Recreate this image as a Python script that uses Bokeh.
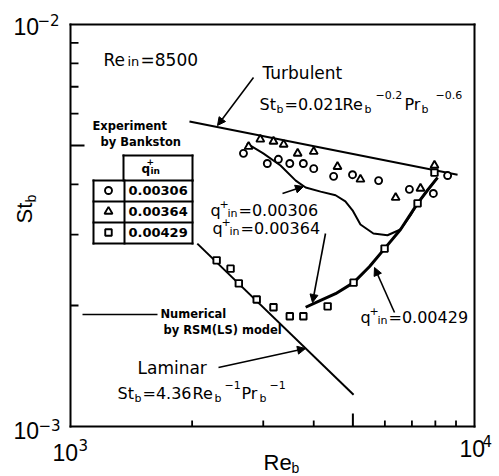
from bokeh.plotting import figure
from bokeh.models import Range1d, LinearScale, Label, Arrow, NormalHead
from bokeh.embed import file_html
from bokeh.resources import INLINE
import math

# Experiment by Bankston, q+in = 0.00306 (circles)
circ_re = [2680, 3070, 3270, 3490, 3770, 4000, 4480, 4990, 5790, 6900, 7910, 8580]
circ_st = [4.78e-3, 4.51e-3, 4.62e-3, 4.51e-3, 4.51e-3, 4.38e-3, 4.19e-3, 4.23e-3,
           4.09e-3, 3.89e-3, 3.80e-3, 4.21e-3]

# Experiment by Bankston, q+in = 0.00364 (triangles)
tri_re = [2760, 2950, 3180, 3370, 3650, 4000, 4580, 5220, 6380, 7350, 7960]
tri_st = [4.97e-3, 5.18e-3, 5.12e-3, 5.03e-3, 4.78e-3, 4.83e-3, 4.43e-3, 4.12e-3,
          3.71e-3, 3.91e-3, 4.46e-3]

# Experiment by Bankston, q+in = 0.00429 (squares)
sq_re = [2300, 2490, 2610, 2890, 3180, 3490, 3770, 4330, 5020, 5990, 7230, 7960]
sq_st = [2.59e-3, 2.47e-3, 2.27e-3, 2.07e-3, 1.98e-3, 1.88e-3, 1.88e-3, 1.99e-3,
         2.28e-3, 2.77e-3, 3.59e-3, 4.28e-3]

# Numerical, RSM(LS) model, q+in = 0.00306
num306_re = [2730, 3000, 3310, 3610, 3820, 4160, 4530, 4790, 4990, 5220, 5620, 6090,
             6560, 6940, 7230, 7650, 8100]
num306_st = [5.06e-3, 4.78e-3, 4.46e-3, 4.09e-3, 3.93e-3, 3.84e-3, 3.76e-3, 3.63e-3,
             3.45e-3, 3.18e-3, 3.02e-3, 2.99e-3, 3.09e-3, 3.35e-3, 3.59e-3, 3.87e-3, 4.16e-3]

# Numerical, q+in = 0.00364 and 0.00429 (coincident curves)
num_low_re = [3820, 4160, 4530, 5020, 5500, 5990, 6560, 7230, 7650, 8100]
num_low_st = [1.98e-3, 2.06e-3, 2.14e-3, 2.28e-3, 2.50e-3, 2.77e-3, 3.09e-3, 3.59e-3,
              3.87e-3, 4.16e-3]

# Correlation lines (end points)
turb_re = [1970, 9080]
turb_st = [5.74e-3, 4.23e-3]
lam_re = [2060, 5020]
lam_st = [2.85e-3, 1.20e-3]

# axes: decades and minor ticks
x_decades = (1e3, 1e4)
y_decades = (1e-3, 1e-2)
x_minor = [2000, 3000, 4000, 6000, 7000, 8000, 9000]
x_major = [5000]
y_minor = [2e-3, 3e-3, 4e-3, 6e-3, 7e-3, 8e-3, 9e-3]
y_major = [5e-3]

legend_vals = ["0.00306", "0.00364", "0.00429"]
legend_markers = ["circle", "triangle", "square"]

W, H = 499, 476
L, T, R, B = 70, 24, 474, 426  # box of the log-log panel on the page

# the log ranges are widened so that the decades land on the panel box
xdec = (R - L) / math.log10(x_decades[1] / x_decades[0])
ydec = (B - T) / math.log10(y_decades[1] / y_decades[0])
x_rng = Range1d(x_decades[0] / 10 ** (L / xdec), x_decades[1] * 10 ** ((W - R) / xdec))
y_rng = Range1d(y_decades[0] / 10 ** ((H - B) / ydec), y_decades[1] * 10 ** (T / ydec))

p = figure(width=W, height=H, x_axis_type="log", y_axis_type="log", title=None,
           x_range=x_rng, y_range=y_rng, x_axis_location=None, y_axis_location=None,
           output_backend="svg", toolbar_location=None,
           min_border=0, min_border_left=0, min_border_right=0,
           min_border_top=0, min_border_bottom=0)
p.background_fill_color = "white"
p.border_fill_color = "white"
p.grid.visible = False
p.outline_line_color = None

# page-pixel ranges for annotations
p.extra_x_ranges = {"px": Range1d(0, W)}
p.extra_y_ranges = {"px": Range1d(H, 0)}
p.extra_x_scales = {"px": LinearScale()}
p.extra_y_scales = {"px": LinearScale()}
PX = dict(x_range_name="px", y_range_name="px")

# panel box and inward ticks
p.segment(x0=[L, R, L, L], x1=[R, R, R, L], y0=[T, T, B, T], y1=[T, B, B, B],
          line_color="black", line_width=2, line_cap="square", **PX)
p.segment(x0=x_minor, x1=x_minor, y0=[B] * len(x_minor), y1=[B - 6] * len(x_minor),
          line_color="black", line_width=1.8, y_range_name="px")
p.segment(x0=x_major, x1=x_major, y0=[B], y1=[B - 13],
          line_color="black", line_width=2, y_range_name="px")
p.segment(x0=[L] * len(y_minor), x1=[L + 8] * len(y_minor), y0=y_minor, y1=y_minor,
          line_color="black", line_width=1.8, x_range_name="px")
p.segment(x0=[L], x1=[L + 14], y0=y_major, y1=y_major,
          line_color="black", line_width=2, x_range_name="px")

# correlations
p.line(turb_re, turb_st, line_color="black", line_width=2)
p.line(lam_re, lam_st, line_color="black", line_width=2)

# numerical curves
p.line(num306_re, num306_st, line_color="black", line_width=2)
p.line(num_low_re, num_low_st, line_color="black", line_width=3)

# experiments
mk = dict(fill_color="white", line_color="black", line_width=1.9)
p.scatter(circ_re, circ_st, marker="circle", size=7, **mk)
p.scatter(tri_re, tri_st, marker="triangle", size=8, **mk)
p.scatter(sq_re, sq_st, marker="square", size=6.5, **mk)

BASE_K = 0.45  # baseline offset of the label box, in em


def txt(x, y, s, size=16, font="DejaVu Sans", style="normal", angle=0.0):
    if angle:
        x = x - BASE_K * size
    else:
        y = y - BASE_K * size
    p.add_layout(Label(x=x, y=y, text=s, text_font=font, text_font_size=f"{size}px",
                       text_font_style=style, text_color="black", text_baseline="alphabetic",
                       text_align="left", angle=angle, **PX))


def arrow(x0, y0, x1, y1):
    p.add_layout(Arrow(x_start=x0, y_start=y0, x_end=x1, y_end=y1, line_width=1.6,
                       end=NormalHead(size=8, fill_color="black", line_color="black"), **PX))


# legend table
p.segment(x0=[123, 192, 123, 93, 93, 93, 124, 192, 93, 93],
          x1=[192, 192, 123, 192, 192, 192, 124, 192, 93, 192],
          y0=[155, 155, 155, 180, 201, 222, 180, 180, 180, 243],
          y1=[155, 180, 180, 180, 201, 222, 243, 243, 243, 243],
          line_color="black", line_width=2, line_cap="square", **PX)
row_y = [190, 211, 232]
for m, v, yy, sz in zip(legend_markers, legend_vals, row_y, [7, 8, 6.5]):
    p.scatter([108], [yy], marker=m, size=sz, **mk, **PX)
    txt(128, yy + 6, v, size=13, style="bold")
txt(141, 174, "q", size=12, style="bold")
txt(146, 165, "+", size=9, style="bold")
txt(150, 175, "in", size=9, style="bold")
txt(92, 131, "Experiment", size=11.5, style="bold")
txt(100, 147, "by Bankston", size=11.5, style="bold")

# numerical legend
p.line([82, 157], [314, 314], line_color="black", line_width=1.5, **PX)
txt(160, 319, "Numerical", size=11.5, style="bold")
txt(163, 335, "by RSM(LS) model", size=11.5, style="bold")

# Re_in
txt(103, 67, "Re", size=17)
txt(127, 67, "in", size=13)
txt(140, 67, "=8500", size=17)

# turbulent
txt(262, 80, "Turbulent", size=17)
txt(259, 111, "St", size=16)
txt(276, 114, "b", size=11)
txt(284, 111, "=0.021", size=16)
txt(342, 111, "Re", size=16)
txt(364, 114, "b", size=11)
txt(375, 99, "\u22120.2", size=11)
txt(404, 111, "Pr", size=16)
txt(421, 114, "b", size=11)
txt(435, 99, "\u22120.6", size=11)
arrow(253, 77, 217, 125)

# laminar
txt(137, 375, "Laminar", size=17)
txt(117, 400, "St", size=16)
txt(134, 403, "b", size=11)
txt(142, 400, "=4.36", size=16)
txt(192, 400, "Re", size=16)
txt(214, 403, "b", size=11)
txt(224, 389, "\u22121", size=11)
txt(241, 400, "Pr", size=16)
txt(259, 403, "b", size=11)
txt(269, 389, "\u22121", size=11)
arrow(218, 367, 305, 348)

# curve labels
for (x0, yb, val) in ((210, 217, "=0.00306"), (212, 235, "=0.00364"), (360, 324, "=0.00429")):
    txt(x0, yb, "q", size=16)
    txt(x0 + 9, yb - 9, "+", size=11)
    txt(x0 + 17, yb + 1, "in", size=11)
    txt(x0 + 28, yb, val, size=16)
arrow(282, 193, 303, 186)
arrow(325, 233, 312, 302)
arrow(394, 312, 374, 267)

# decade labels and axis titles
AX = "Liberation Sans"
txt(13, 36, "10", size=23, font=AX)
txt(37, 26, "\u22122", size=15)
txt(13, 440, "10", size=23, font=AX)
txt(38, 431, "\u22123", size=15)
txt(52, 462, "10", size=23, font=AX)
txt(78, 451, "3", size=15)
txt(459, 458, "10", size=23, font=AX)
txt(482, 447, "4", size=15)
txt(263, 472, "Re", size=22, font=AX)
txt(291, 474, "b", size=14, font=AX)
txt(34, 223, "St", size=22, font=AX, angle=math.pi / 2)
txt(37, 202, "b", size=14, font=AX, angle=math.pi / 2)

open("out.html", "w").write(file_html(p, INLINE))
